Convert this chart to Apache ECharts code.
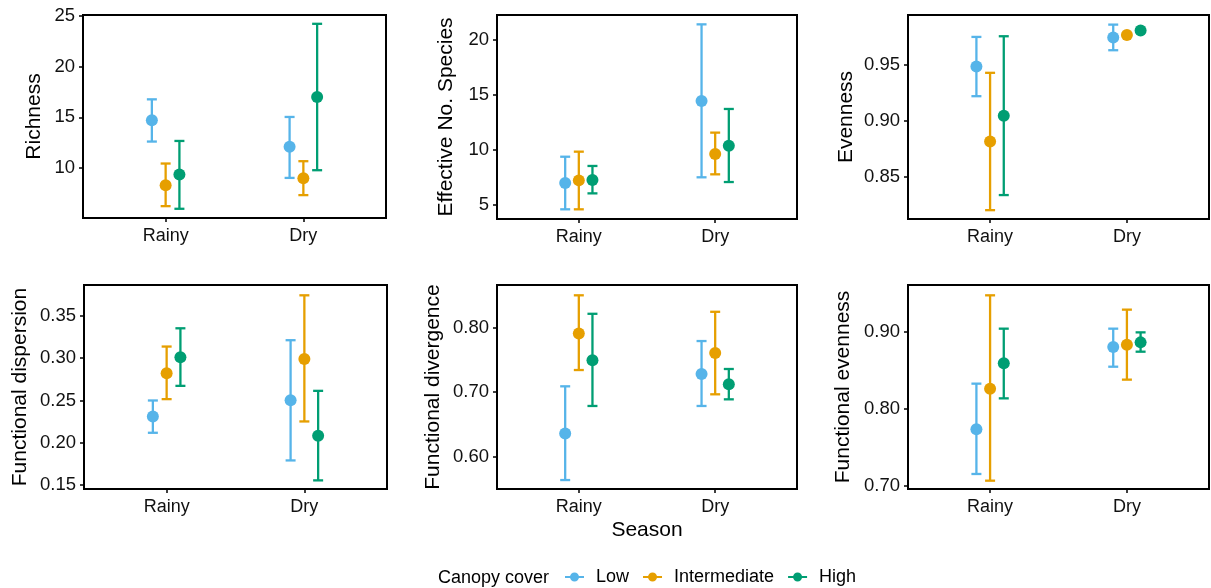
<!DOCTYPE html>
<html>
<head>
<meta charset="utf-8">
<title>Canopy cover</title>
<script src="https://cdn.jsdelivr.net/npm/echarts@6.0.0/dist/echarts.min.js"></script>
<style>
	html, body { margin: 0; padding: 0; background: #fff; }
	#chartContent { width: 1211px; height: 588px; }
</style>
</head>
<body>
<div id="chartContent"></div>
<script>
var seasons = ['Rainy', 'Dry'];
var covers = ['Low', 'Intermediate', 'High'];
var colors = ['#56B4E9', '#E69F00', '#009E73'];
var dodge = [-0.1, 0, 0.1]; //position_dodge offsets

// rows: Low, Intermediate, High / cols: Rainy, Dry
var richnessMean = [[14.70, 12.08], [8.29, 8.98], [9.34, 17.00]];
var richnessLower = [[12.60, 9.01], [6.22, 7.31], [5.96, 9.77]];
var richnessUpper = [[16.77, 15.03], [10.43, 10.66], [12.66, 24.23]];

var speciesMean = [[7.00, 14.45], [7.24, 9.64], [7.27, 10.39]];
var speciesLower = [[4.61, 7.52], [4.61, 7.79], [6.06, 7.09]];
var speciesUpper = [[9.39, 21.42], [9.85, 11.58], [8.55, 13.73]];

var evennessMean = [[0.9485, 0.9744], [0.8815, 0.9768], [0.9045, 0.9807]];
var evennessLower = [[0.922, 0.9631], [0.8201, null], [0.8336, null]];
var evennessUpper = [[0.975, 0.986], [0.9429, null], [0.9756, null]];

var dispersionMean = [[0.2311, 0.2504], [0.2823, 0.2992], [0.3012, 0.2083]];
var dispersionLower = [[0.2118, 0.1791], [0.2516, 0.2252], [0.2673, 0.1555]];
var dispersionUpper = [[0.2500, 0.3213], [0.3138, 0.3744], [0.3354, 0.2614]];

var divergenceMean = [[0.6357, 0.7279], [0.7907, 0.7605], [0.7491, 0.7119]];
var divergenceLower = [[0.5633, 0.6783], [0.7341, 0.6964], [0.6783, 0.6886]];
var divergenceUpper = [[0.7088, 0.7791], [0.8501, 0.8245], [0.8214, 0.7357]];

var fevennessMean = [[0.7732, 0.8801], [0.8260, 0.8831], [0.8589, 0.8861]];
var fevennessLower = [[0.7152, 0.8545], [0.7065, 0.8377], [0.8134, 0.8740]];
var fevennessUpper = [[0.8325, 0.9039], [0.9472, 0.9286], [0.9039, 0.8991]];

// y tick labels per panel
var richnessTicks = [10, 15, 20, 25];
var speciesTicks = [5, 10, 15, 20];
var evennessTicks = [0.85, 0.90, 0.95];
var dispersionTicks = [0.15, 0.20, 0.25, 0.30, 0.35];
var divergenceTicks = [0.60, 0.70, 0.80];
var fevennessTicks = [0.70, 0.80, 0.90];

var font = '"Liberation Sans", Arial, Helvetica, sans-serif';

var panels = [
	{ name: 'Richness', mean: richnessMean, lower: richnessLower, upper: richnessUpper, ticks: richnessTicks, dec: 0,
		min: 5.05, max: 25.1, left: 83, top: 15, width: 303, height: 203, gap: 38 },
	{ name: 'Effective No. Species', mean: speciesMean, lower: speciesLower, upper: speciesUpper, ticks: speciesTicks, dec: 0,
		min: 3.73, max: 22.27, left: 497, top: 15, width: 300, height: 204, gap: 40 },
	{ name: 'Evenness', mean: evennessMean, lower: evennessLower, upper: evennessUpper, ticks: evennessTicks, dec: 2,
		min: 0.8122, max: 0.9946, left: 908, top: 15, width: 301, height: 204, gap: 51 },
	{ name: 'Functional dispersion', mean: dispersionMean, lower: dispersionLower, upper: dispersionUpper, ticks: dispersionTicks, dec: 2,
		min: 0.1453, max: 0.3866, left: 84, top: 285, width: 303, height: 204, gap: 53 },
	{ name: 'Functional divergence', mean: divergenceMean, lower: divergenceLower, upper: divergenceUpper, ticks: divergenceTicks, dec: 2,
		min: 0.5494, max: 0.8661, left: 497, top: 285, width: 300, height: 204, gap: 53, xName: 'Season' },
	{ name: 'Functional evenness', mean: fevennessMean, lower: fevennessLower, upper: fevennessUpper, ticks: fevennessTicks, dec: 2,
		min: 0.6957, max: 0.9606, left: 908, top: 285, width: 301, height: 204, gap: 54 }
];

//误差线
function errorBar(params, api) {
	var x = api.value(0);
	var lo = api.coord([x, api.value(1)]);
	var hi = api.coord([x, api.value(2)]);
	var half = 5;
	var c = api.visual('color');
	return {
		type: 'group',
		children: [
			{ type: 'line', shape: { x1: lo[0], y1: lo[1], x2: hi[0], y2: hi[1] }, style: { stroke: c, lineWidth: 2.3 } },
			{ type: 'line', shape: { x1: lo[0] - half, y1: lo[1], x2: lo[0] + half, y2: lo[1] }, style: { stroke: c, lineWidth: 2.3 } },
			{ type: 'line', shape: { x1: hi[0] - half, y1: hi[1], x2: hi[0] + half, y2: hi[1] }, style: { stroke: c, lineWidth: 2.3 } }
		]
	};
}

var grid = [], xAxis = [], yAxis = [], series = [];

panels.forEach(function(p, i) {
	grid.push({
		left: p.left, top: p.top, width: p.width, height: p.height,
		show: true, borderColor: '#000', borderWidth: 2, backgroundColor: 'transparent'
	});
	xAxis.push({
		gridIndex: i, type: 'value', min: 0.4, max: 2.6,
		name: p.xName || '', nameLocation: 'middle', nameGap: 31,
		nameTextStyle: { fontSize: 21, color: '#000', fontFamily: font },
		axisLine: { show: true, onZero: false, lineStyle: { color: '#000', width: 2 } },
		axisTick: { show: true, length: 4, customValues: [1, 2], lineStyle: { color: '#000', width: 1.5 } },
		axisLabel: {
			customValues: [1, 2], margin: 9, fontSize: 18, color: '#111', fontFamily: font,
			formatter: function(v) { return seasons[Math.round(v) - 1]; }
		},
		splitLine: { show: false }
	});
	yAxis.push({
		gridIndex: i, type: 'value', min: p.min, max: p.max,
		name: p.name, nameLocation: 'middle', nameGap: p.gap,
		nameTextStyle: { fontSize: 21, color: '#000', fontFamily: font },
		axisLine: { show: true, onZero: false, lineStyle: { color: '#000', width: 2 } },
		axisTick: { show: true, length: 4, customValues: p.ticks, lineStyle: { color: '#000', width: 1.5 } },
		axisLabel: {
			customValues: p.ticks, margin: 8, fontSize: 18.5, color: '#111', fontFamily: font,
			formatter: function(v) { return Number(v).toFixed(p.dec); }
		},
		splitLine: { show: false }
	});
	for (var k = 0; k < covers.length; k++) {
		var bars = [], pts = [];
		for (var s = 0; s < seasons.length; s++) {
			var x = s + 1 + dodge[k];
			if (p.lower[k][s] != null) {
				bars.push([x, p.lower[k][s], p.upper[k][s]]);
			}
			pts.push([x, p.mean[k][s]]);
		}
		series.push({
			name: covers[k] + ' bar',
			type: 'custom',
			xAxisIndex: i, yAxisIndex: i,
			renderItem: errorBar,
			itemStyle: { color: colors[k] },
			encode: { x: 0, y: [1, 2] },
			animation: false,
			z: 2,
			data: bars
		});
		series.push({
			name: covers[k],
			type: 'scatter',
			xAxisIndex: i, yAxisIndex: i,
			symbolSize: 12,
			itemStyle: { color: colors[k], opacity: 1 },
			animation: false,
			z: 3,
			data: pts
		});
	}
});

var legendIcon = 'path://M0,3.5 H5.2 V5.5 H0 Z M13.8,3.5 H19 V5.5 H13.8 Z M9.5,0 A4.5,4.5 0 1 1 9.5,9 A4.5,4.5 0 1 1 9.5,0 Z';

var myChart = echarts.init(document.getElementById('chartContent'));
var option = {
	backgroundColor: '#fff',
	animation: false,
	grid: grid,
	xAxis: xAxis,
	yAxis: yAxis,
	legend: {
		left: 565, top: 568, padding: 0,
		itemWidth: 19, itemHeight: 9, itemGap: 14,
		data: covers.map(function(c, k) {
			return { name: c, icon: legendIcon, itemStyle: { color: colors[k] } };
		}),
		textStyle: { fontSize: 18, color: '#000', fontFamily: font, padding: [0, 0, 0, 7] }
	},
	graphic: [{
		type: 'text', left: 438, top: 569,
		style: { text: 'Canopy cover', fontSize: 18, fill: '#000', fontFamily: font }
	}],
	series: series
};
myChart.setOption(option);
</script>
</body>
</html>
